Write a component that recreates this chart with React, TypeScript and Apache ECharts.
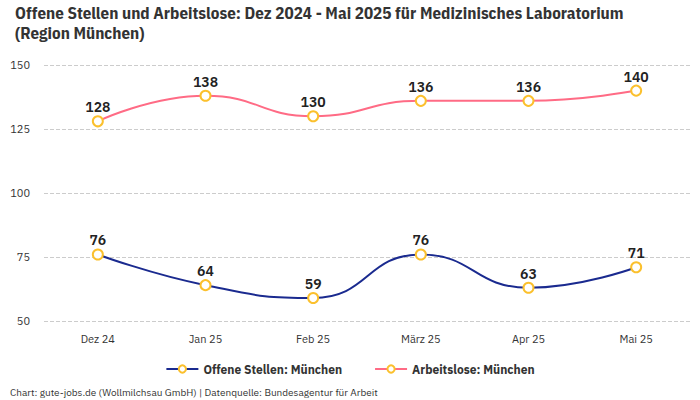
import React, { useEffect, useRef } from "react";
import * as echarts from "echarts";

const categories = ["Dez 24", "Jan 25", "Feb 25", "März 25", "Apr 25", "Mai 25"];
const offeneStellen = [76, 64, 59, 76, 63, 71];
const arbeitslose = [128, 138, 130, 136, 136, 140];
const titleText = "Offene Stellen und Arbeitslose: Dez 2024 - Mai 2025 für Medizinisches Laboratorium\n(Region München)";
const footerText = "Chart: gute-jobs.de (Wollmilchsau GmbH) | Datenquelle: Bundesagentur für Arbeit";

const FONT = "'IBM Plex Sans', 'Noto Sans', Roboto, sans-serif";
const TITLE_FONT = "'IBM Plex Sans Condensed', 'Liberation Sans Narrow', 'Roboto Condensed', 'Noto Sans', sans-serif";

export default function App() {
  const ref = useRef<HTMLDivElement>(null);
  useEffect(() => {
    const chart = echarts.init(ref.current!, undefined, { renderer: "svg" });
    const mkSeries = (name: string, data: number[], color: string) => ({
      name,
      type: "line",
      data,
      smooth: true,
      symbol: "circle",
      symbolSize: 10,
      showSymbol: true,
      lineStyle: { color, width: 2 },
      itemStyle: { color: "#ffffff", borderColor: "#fbc02d", borderWidth: 2 },
      label: {
        show: true,
        position: "top",
        distance: 1,
        color: "#222",
        fontSize: 14,
        fontWeight: 600,
        fontFamily: FONT,
      },
    });
    chart.setOption({
      animation: false,
      backgroundColor: "#ffffff",
      title: {
        text: titleText,
        left: 10,
        top: -2,
        textStyle: {
          fontSize: 17,
          fontWeight: "bold",
          color: "#333",
          fontFamily: TITLE_FONT,
          lineHeight: 20,
        },
      },
      graphic: [
        {
          type: "text",
          left: 10,
          top: 387,
          style: {
            text: footerText,
            fontSize: 10,
            fill: "#333",
            fontFamily: FONT,
          },
        },
      ],
      legend: {
        bottom: 20,
        left: "center",
        itemGap: 32,
        itemWidth: 32,
        itemHeight: 9,
        textStyle: { fontSize: 12, fontWeight: "bold", color: "#333", fontFamily: FONT },
        data: ["Offene Stellen: München", "Arbeitslose: München"],
      },
      grid: { left: 44, right: 10, top: 65, bottom: 79, containLabel: false },
      xAxis: {
        type: "category",
        data: categories,
        boundaryGap: true,
        axisLine: { show: false },
        axisTick: { show: false },
        axisLabel: { color: "#333", fontSize: 11, margin: 12, fontFamily: FONT },
      },
      yAxis: {
        type: "value",
        min: 50,
        max: 150,
        interval: 25,
        axisLine: { show: false },
        axisTick: { show: false },
        axisLabel: { color: "#333", fontSize: 11, margin: 14, fontFamily: FONT },
        splitLine: { lineStyle: { type: "dashed", color: "#cccccc" } },
      },
      series: [
        mkSeries("Offene Stellen: München", offeneStellen, "#1a2a8f"),
        mkSeries("Arbeitslose: München", arbeitslose, "#ff6b85"),
      ],
    });
    return () => chart.dispose();
  }, []);
  return <div ref={ref} style={{ width: 700, height: 400, position: "absolute", left: 0, top: 0 }} />;
}
